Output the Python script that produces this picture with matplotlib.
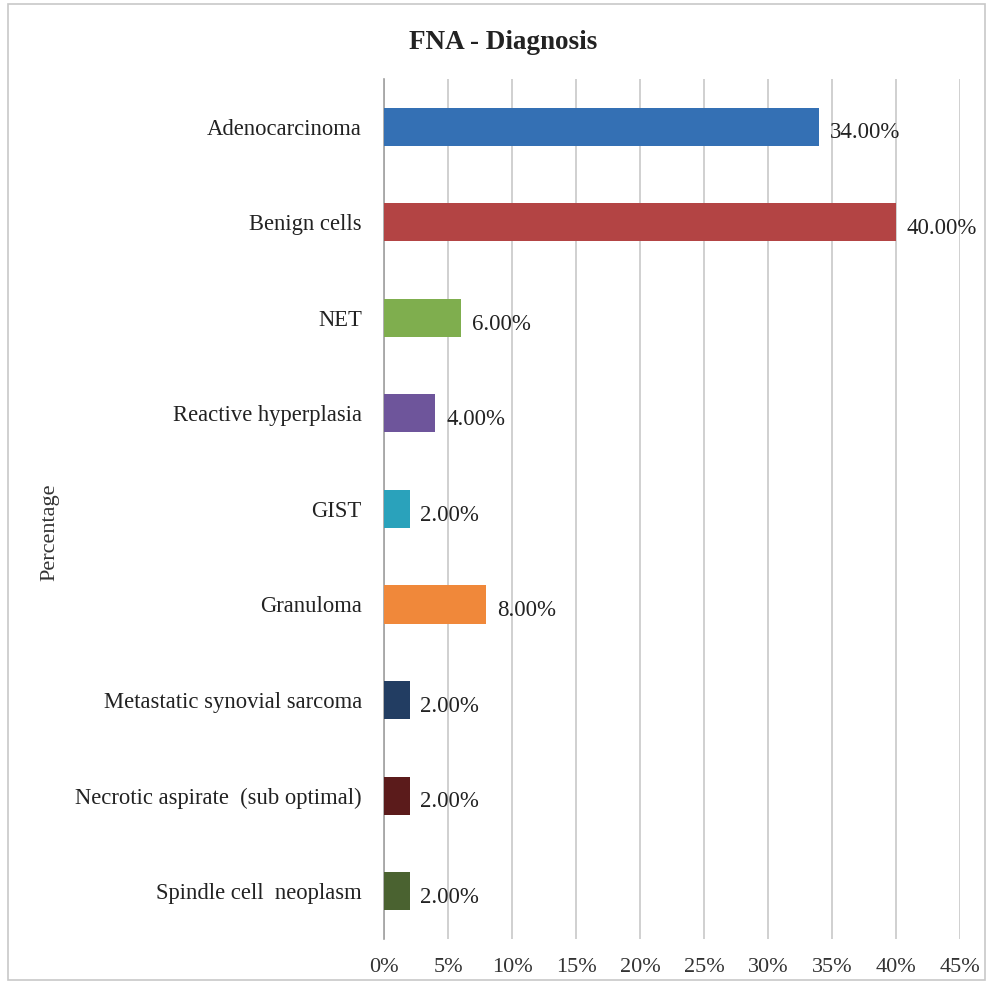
import matplotlib.pyplot as plt
from matplotlib.patches import Rectangle

categories = ['Adenocarcinoma', 'Benign cells', 'NET', 'Reactive hyperplasia', 'GIST',
              'Granuloma', 'Metastatic synovial sarcoma', 'Necrotic aspirate  (sub optimal)',
              'Spindle cell  neoplasm']
values = [34, 40, 6, 4, 2, 8, 2, 2, 2]
colors = ['#3470B4', '#B34444', '#7FAE4E', '#6E559B', '#2AA2BB', '#F0883A',
          '#223D62', '#5B1B1B', '#4A6230']
ticks = list(range(0, 50, 5))

plt.rcParams['font.family'] = ['Liberation Serif', 'DejaVu Serif']

fig = plt.figure(figsize=(9.91, 9.86), dpi=100)
ax = fig.add_axes([0.3875, 0.0477, 0.5812, 0.8723])

y = list(range(len(categories)))
ax.barh(y, values, height=0.4, color=colors, zorder=3)
for yi, v in zip(y, values):
    ax.text(v + 0.85, yi + 0.04, f'{v:.2f}%', va='center_baseline', ha='left',
            fontsize=16.5, color='#222222')

ax.set_ylim(len(categories) - 0.5, -0.5)
ax.set_xlim(0, 45)
ax.set_xticks(ticks)
ax.set_xticklabels([f'{t}%' for t in ticks], fontsize=16, color='#333333')
ax.set_yticks(y)
ax.set_yticklabels(categories, fontsize=16.3, color='#222222')
ax.tick_params(length=0)
ax.tick_params(axis='x', pad=14)
ax.tick_params(axis='y', pad=16)
ax.grid(axis='x', color='#C8C8C8', linewidth=1.2, zorder=0)
for s in ['top', 'right', 'bottom']:
    ax.spines[s].set_visible(False)
ax.spines['left'].set_color('#A0A0A0')
ax.spines['left'].set_linewidth(1.2)

fig.text(0.508, 0.957, 'FNA - Diagnosis', ha='center', va='center', fontsize=19.5,
         fontweight='bold', color='#222222')
fig.text(0.05, 0.46, 'Percentage', ha='center', va='center', rotation=90,
         fontsize=16, color='#333333')

fig.patches.append(Rectangle((0.008, 0.006), 0.986, 0.99, transform=fig.transFigure,
                             fill=False, edgecolor='#C8C8C8', linewidth=1.2))

fig.savefig('out.png', dpi=100)
